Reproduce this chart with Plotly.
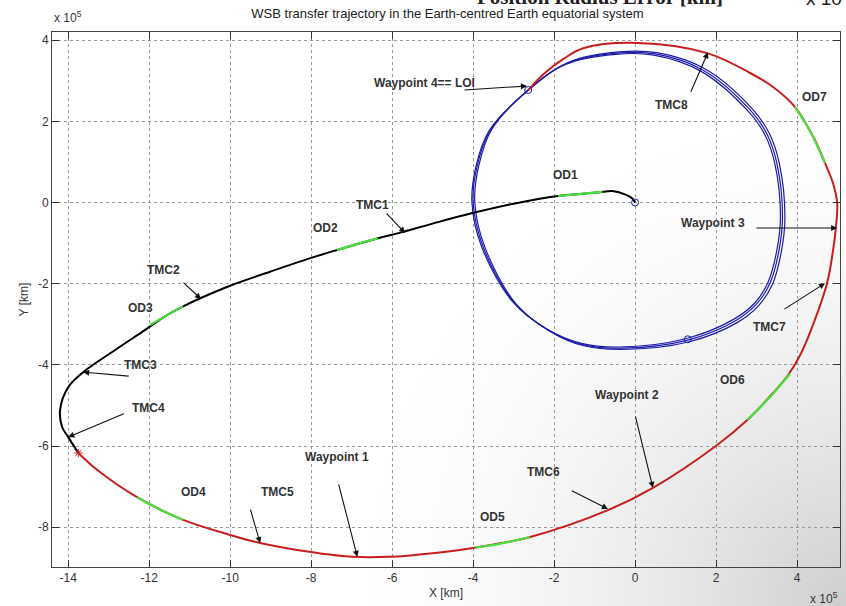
import base64, struct, zlib
import plotly.graph_objects as go

# ---------------- data (units of 1e5 km) ----------------
black_x = [0.0, -0.07, -0.25, -0.57, -0.81, -1.35, -1.9, -3.0, -4.02, -5.0, -5.75, -6.35, -7.36, -8.02,
           -9.0, -10.0, -10.74, -11.16, -11.6, -12.1, -12.85, -13.63, -14.0, -14.2, -14.15, -14.0, -13.75]
black_y = [0.0, 0.1, 0.2, 0.28, 0.26, 0.21, 0.16, -0.03, -0.26, -0.52, -0.73, -0.88, -1.17, -1.37,
           -1.70, -2.05, -2.36, -2.56, -2.8, -3.14, -3.64, -4.18, -4.55, -5.11, -5.53, -5.78, -6.17]

red_x = [-13.75, -13.28, -12.3, -11.16, -10.0, -9.26, -8.35, -6.96, -6.05, -5.0, -4.0, -2.59, -0.67, 0.44,
         2.02, 2.77, 3.4, 3.78, 4.08, 4.36, 4.74, 4.89, 4.96, 4.99, 4.88, 4.69, 4.44, 3.95, 3.4, 2.84, 1.78, 0.05,
         -1.28, -1.78, -2.25, -2.64]
red_y = [-6.17, -6.59, -7.26, -7.82, -8.19, -8.39, -8.56, -8.73, -8.73, -8.64, -8.51, -8.24, -7.58, -7.03,
         -5.98, -5.36, -4.7, -4.25, -3.75, -3.1, -1.99, -1.17, -0.6, -0.01, 0.5, 0.97, 1.54, 2.35, 2.85, 3.19, 3.68,
         3.93, 3.80, 3.53, 3.17, 2.77]

loopA_x = [-2.64, -1.68, -0.44, 0.5, 1.68, 2.84, 3.25, 3.5, 3.64, 3.55, 3.33, 3.0, 2.47, 1.3, -0.37, -1.3,
           -2.15, -2.98, -3.75, -4.0, -3.9, -3.58, -2.64]
loopA_y = [2.77, 3.43, 3.68, 3.66, 3.26, 2.28, 1.7, 0.97, -0.36, -1.2, -1.99, -2.5, -2.92, -3.39, -3.59, -3.5,
           -3.14, -2.48, -1.1, 0.01, 0.9, 1.78, 2.77]
loopB_x = [-2.6, -1.63, -0.4, 0.54, 1.73, 2.9, 3.31, 3.56, 3.7, 3.61, 3.39, 3.05, 2.52, 1.34, -0.33, -1.27,
           -2.11, -2.94, -3.71, -3.96, -3.86, -3.54, -2.6]
loopB_y = [2.81, 3.46, 3.71, 3.69, 3.29, 2.3, 1.71, 0.97, -0.37, -1.22, -2.02, -2.54, -2.96, -3.43, -3.62, -3.53,
           -3.17, -2.5, -1.1, 0.02, 0.91, 1.8, 2.81]
loopC_x = [-2.67, -1.72, -0.48, 0.46, 1.63, 2.79, 3.2, 3.45, 3.59, 3.5, 3.28, 2.96, 2.43, 1.27, -0.4, -1.33,
           -2.19, -3.02, -3.79, -4.03, -3.93, -3.61, -2.67]
loopC_y = [2.74, 3.4, 3.65, 3.63, 3.23, 2.25, 1.68, 0.96, -0.35, -1.18, -1.97, -2.47, -2.88, -3.35, -3.56, -3.47,
           -3.11, -2.45, -1.09, 0.0, 0.89, 1.76, 2.74]

od_segments = {
    "OD1": ([-1.9, -1.35, -0.81], [0.16, 0.21, 0.26]),
    "OD2": ([-7.36, -6.85, -6.35], [-1.17, -1.02, -0.88]),
    "OD3": ([-11.16, -11.6, -11.98], [-2.56, -2.8, -3.02]),
    "OD4": ([-12.3, -11.7, -11.16], [-7.26, -7.58, -7.82]),
    "OD5": ([-3.95, -3.3, -2.6], [-8.5, -8.4, -8.24]),
    "OD6": ([2.77, 3.25, 3.83], [-5.36, -4.88, -4.22]),
    "OD7": ([3.95, 4.3, 4.69], [2.35, 1.8, 0.97]),
}

circle_x = [0.0, -2.64, 1.3]
circle_y = [0.0, 2.77, -3.37]
star_x = [-13.75]
star_y = [-6.17]

# plain labels: text, x, y
labels = [
    ("OD1", -1.73, 0.67), ("OD2", -7.65, -0.63), ("OD3", -12.22, -2.60), ("OD4", -10.91, -7.13),
    ("OD5", -3.51, -7.75), ("OD6", 2.40, -4.37), ("OD7", 4.44, 2.60),
    ("Waypoint 4== LOI", -5.21, 2.94), ("TMC8", 0.91, 2.40), ("Waypoint 3", 1.93, -0.51),
    ("TMC7", 3.33, -3.07), ("TMC1", -6.49, -0.06), ("TMC2", -11.65, -1.67), ("TMC3", -12.22, -4.0),
    ("TMC4", -12.02, -5.06), ("TMC5", -8.84, -7.13), ("Waypoint 1", -7.36, -6.27),
    ("TMC6", -2.27, -6.64), ("Waypoint 2", -0.20, -4.74),
]
# arrows: head x, head y, tail x, tail y
arrows = [
    (-2.67, 2.87, -4.25, 2.77), (1.80, 3.70, 1.36, 2.69), (4.99, -0.63, 2.96, -0.63),
    (4.69, -1.99, 3.65, -2.65), (-5.68, -0.75, -6.17, -0.24), (-10.72, -2.38, -11.19, -1.94),
    (-13.63, -4.18, -12.47, -4.28), (-14.0, -5.78, -12.59, -5.19), (-9.26, -8.39, -9.51, -7.53),
    (-6.86, -8.73, -7.33, -6.91), (-0.67, -7.55, -1.60, -7.08), (0.44, -7.03, 0.0, -5.24),
]

x_ticks = [-14, -12, -10, -8, -6, -4, -2, 0, 2, 4]
y_ticks = [-8, -6, -4, -2, 0, 2, 4]


# ---------------- background shading (screenshot vignette, style only) ----------------
def shade_png(w, h):
    rows = []
    for j in range(h):
        row = bytearray([0])
        for i in range(w):
            dx = (w - 1 - i) / (w * 0.60)
            dy = (h - 1 - j) / (h * 0.85)
            r = (dx * dx + dy * dy) ** 0.5
            t = max(0.0, 1.0 - r)
            v = int(round(255 - 48 * t ** 1.8))
            row.append(v)
        rows.append(bytes(row))
    raw = b"".join(rows)

    def chunk(tag, data):
        c = struct.pack(">I", len(data)) + tag + data
        return c + struct.pack(">I", zlib.crc32(tag + data) & 0xFFFFFFFF)

    png = b"\x89PNG\r\n\x1a\n" + chunk(b"IHDR", struct.pack(">IIBBBBB", w, h, 8, 0, 0, 0, 0))
    png += chunk(b"IDAT", zlib.compress(raw, 9)) + chunk(b"IEND", b"")
    return "data:image/png;base64," + base64.b64encode(png).decode()


# ---------------- figure ----------------
W, H = 846, 606
ML, MR, MT, MB = 52, 6, 32, 39
PW, PH = W - ML - MR, H - MT - MB

BLUE = "rgb(28,28,168)"
RED = "rgb(200,30,30)"
GREEN = "rgb(70,225,60)"
TXT = "#333333"

fig = go.Figure()
for lx, ly in [(loopA_x, loopA_y), (loopB_x, loopB_y), (loopC_x, loopC_y)]:
    fig.add_trace(go.Scatter(x=lx, y=ly, mode="lines", line=dict(color=BLUE, width=1.2, shape="spline"),
                             hoverinfo="skip"))
fig.add_trace(go.Scatter(x=black_x, y=black_y, mode="lines", line=dict(color="black", width=2, shape="spline")))
fig.add_trace(go.Scatter(x=red_x, y=red_y, mode="lines", line=dict(color=RED, width=2, shape="spline")))
for name, (gx, gy) in od_segments.items():
    fig.add_trace(go.Scatter(x=gx, y=gy, mode="lines", name=name,
                             line=dict(color=GREEN, width=2.2, shape="spline")))
fig.add_trace(go.Scatter(x=circle_x, y=circle_y, mode="markers",
                         marker=dict(symbol="circle-open", size=7, color=BLUE, line=dict(width=1))))
fig.add_trace(go.Scatter(x=star_x, y=star_y, mode="markers",
                         marker=dict(symbol="asterisk-open", size=7, color=RED, line=dict(width=1, color=RED))))

for t, x, y in labels:
    fig.add_annotation(x=x, y=y, text="<b>%s</b>" % t, showarrow=False,
                       font=dict(family="Arial", size=12, color=TXT))
for hx, hy, tx, ty in arrows:
    fig.add_annotation(x=hx, y=hy, ax=tx, ay=ty, xref="x", yref="y", axref="x", ayref="y",
                       text="", showarrow=True, arrowhead=2, arrowsize=1.1, arrowwidth=1.1,
                       arrowcolor="#111111", standoff=0)

# exponent labels and clipped header from the neighbouring figure
fig.add_annotation(x=0.0, y=1.009, xref="paper", yref="paper", text="x 10<sup>5</sup>", showarrow=False,
                   xanchor="left", yanchor="bottom", font=dict(family="Arial", size=12, color=TXT))
fig.add_annotation(x=1.0, y=-0.040, xref="paper", yref="paper", text="x 10<sup>5</sup>", showarrow=False,
                   xanchor="right", yanchor="top", font=dict(family="Arial", size=12, color=TXT))
fig.add_annotation(x=(600 - ML) / PW, y=1.091, xref="paper", yref="paper", xanchor="center",
                   text="<b>Position Radius Error [km]</b>",
                   showarrow=False, font=dict(family="Liberation Serif", size=21, color="#222222"))
fig.add_annotation(x=1.005, y=1.086, xref="paper", yref="paper", text="x 10",
                   showarrow=False, xanchor="right", font=dict(family="Arial", size=19, color="#222222"))

axis_common = dict(showline=True, linecolor="#444444", linewidth=1, mirror="ticks", ticks="inside",
                   ticklen=7, tickcolor="#333333", showgrid=True, gridcolor="#9a9a9a", griddash="dot",
                   gridwidth=1, zeroline=False, tickfont=dict(family="Arial", size=12, color=TXT))
fig.update_xaxes(range=[-14.4, 5.06], tickvals=x_ticks, ticktext=[str(v) for v in x_ticks],
                 title=dict(text="X [km]", standoff=4, font=dict(family="Arial", size=12, color=TXT)),
                 **axis_common)
fig.update_yaxes(range=[-8.98, 4.2], tickvals=y_ticks, ticktext=[str(v) for v in y_ticks],
                 title=dict(text="Y [km]", standoff=6, font=dict(family="Arial", size=12, color=TXT)),
                 **axis_common)

fig.add_layout_image(dict(source=shade_png(106, 76), xref="paper", yref="paper",
                          x=-ML / PW, y=1 + MT / PH, sizex=W / PW, sizey=H / PH,
                          xanchor="left", yanchor="top", sizing="stretch", layer="below"))

fig.update_layout(
    width=W, height=H, showlegend=False,
    margin=dict(l=ML, r=MR, t=MT, b=MB),
    paper_bgcolor="white", plot_bgcolor="rgba(0,0,0,0)",
    title=dict(text="WSB transfer trajectory in the Earth-centred Earth equatorial system",
               x=447.5 / W, xanchor="center", y=1 - 13 / H, yanchor="middle",
               font=dict(family="Arial", size=13, color="#222222")),
)

fig.write_html("out.html")
